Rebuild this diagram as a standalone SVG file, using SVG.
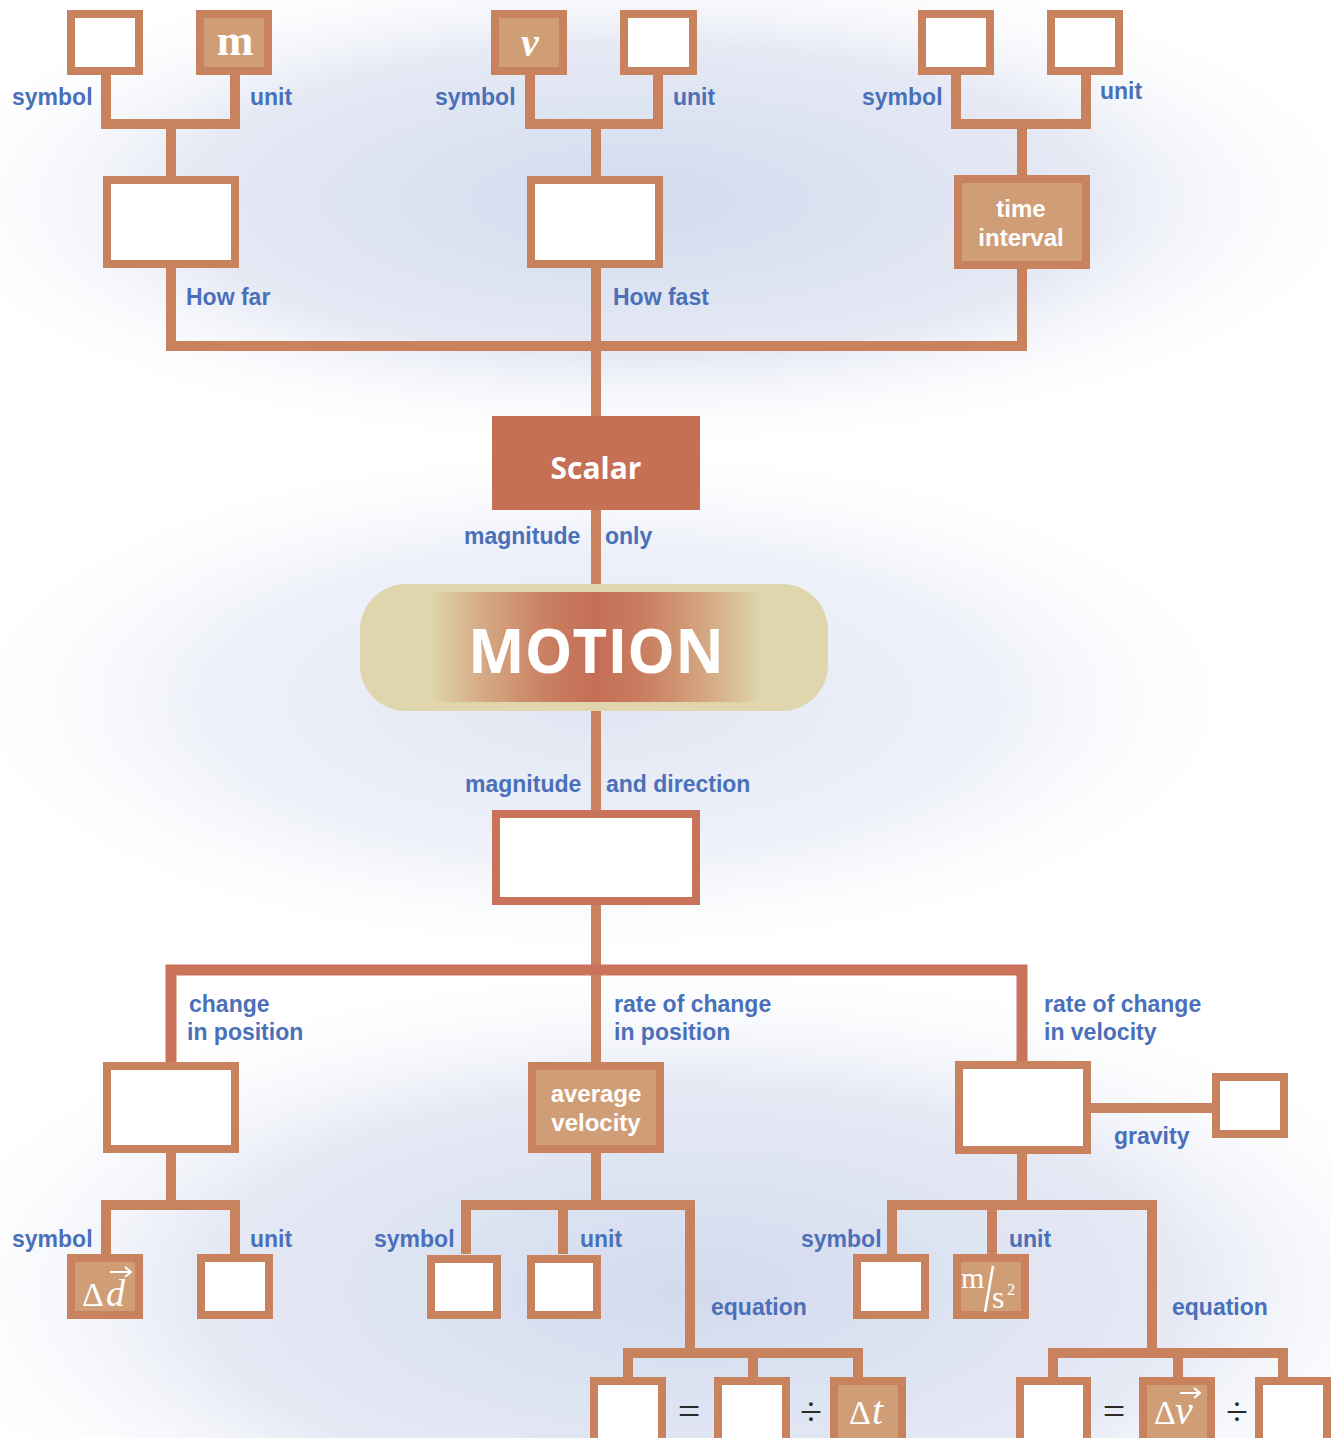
<svg xmlns="http://www.w3.org/2000/svg" width="1331" height="1438" viewBox="0 0 1331 1438">
<defs>
<radialGradient id="bg1" cx="0.5" cy="0.5" r="0.5">
<stop offset="0" stop-color="#d3daee" stop-opacity="1"/>
<stop offset="0.6" stop-color="#dfe4f2" stop-opacity="0.8"/>
<stop offset="1" stop-color="#ffffff" stop-opacity="0"/>
</radialGradient>
<radialGradient id="bg2" cx="0.5" cy="0.5" r="0.5">
<stop offset="0" stop-color="#e0e5f2" stop-opacity="1"/>
<stop offset="0.6" stop-color="#e8ecf6" stop-opacity="0.7"/>
<stop offset="1" stop-color="#ffffff" stop-opacity="0"/>
</radialGradient>
<linearGradient id="motionGlow" x1="0" y1="0" x2="1" y2="0">
<stop offset="0" stop-color="#dfd6ad"/>
<stop offset="0.15" stop-color="#d6ac86"/>
<stop offset="0.35" stop-color="#ca7f61"/>
<stop offset="0.5" stop-color="#c46e55"/>
<stop offset="0.65" stop-color="#ca7f61"/>
<stop offset="0.85" stop-color="#d6ac86"/>
<stop offset="1" stop-color="#dfd6ad"/>
</linearGradient>
<style>
.ln{fill:none;stroke:#c8835e;stroke-width:10;stroke-linejoin:miter;stroke-linecap:butt}
.lnr{fill:none;stroke:#c9735a;stroke-width:11;stroke-linejoin:miter;stroke-linecap:butt}
.box{fill:#ffffff;stroke:#c8835e;stroke-width:8}
.fbox{fill:#d09e76;stroke:#c8835e;stroke-width:8}
.lbl{font-family:"Liberation Sans",Arial,sans-serif;font-weight:700;font-size:23px;fill:#4a70b9}
.wt{font-family:"Liberation Sans",Arial,sans-serif;font-weight:700;font-size:24px;fill:#ffffff;text-anchor:middle}
.sym{font-family:"Liberation Serif","DejaVu Serif",serif;fill:#ffffff}
.op{font-family:"Liberation Serif","DejaVu Serif",serif;font-size:40px;fill:#2a2a2a;text-anchor:middle}
</style>
</defs>
<rect x="0" y="0" width="1331" height="1438" fill="#ffffff"/>
<ellipse cx="640" cy="200" rx="760" ry="260" fill="url(#bg1)"/>
<ellipse cx="600" cy="700" rx="680" ry="270" fill="url(#bg2)"/>
<ellipse cx="690" cy="1290" rx="820" ry="340" fill="url(#bg1)"/>

<g id="connectors">
<path class="ln" d="M106,75 V124 H235 V75 M171,124 V176"/>
<path class="ln" d="M530,75 V124 H658 V75 M596,124 V176"/>
<path class="ln" d="M956,75 V124 H1086 V75 M1022,124 V175"/>
<path class="ln" d="M171,268 V346 H1022 V268 M596,268 V416"/>
<path class="ln" d="M596,510 V584"/>
<path class="ln" d="M596,711 V810"/>
<path class="ln" d="M596,905 V970"/>
<path class="lnr" d="M171,1062 V970 H1022 V1062"/>
<path class="ln" d="M596,975 V1062"/>
<path class="ln" d="M171,1153 V1205 M106,1254 V1205 H235 V1254"/>
<path class="ln" d="M596,1153 V1205 M466,1254 V1205 H690 V1353 M563,1205 V1254"/>
<path class="ln" d="M628,1377 V1353 H858 V1377 M753,1353 V1377"/>
<path class="ln" d="M1022,1153 V1205 M892,1254 V1205 H1152 V1353 M992,1205 V1254"/>
<path class="ln" d="M1053,1377 V1353 H1283 V1377 M1178,1353 V1377"/>
<path class="ln" d="M1091,1108 H1212"/>
</g>

<g id="labels">
<text class="lbl" x="12" y="105">symbol</text>
<text class="lbl" x="250" y="105">unit</text>
<text class="lbl" x="435" y="105">symbol</text>
<text class="lbl" x="673" y="105">unit</text>
<text class="lbl" x="862" y="105">symbol</text>
<text class="lbl" x="1100" y="99">unit</text>
<text class="lbl" x="186" y="305">How far</text>
<text class="lbl" x="613" y="305">How fast</text>
<text class="lbl" x="464" y="544">magnitude</text>
<text class="lbl" x="605" y="544">only</text>
<text class="lbl" x="465" y="792">magnitude</text>
<text class="lbl" x="606" y="792">and direction</text>
<text class="lbl" x="189" y="1012">change</text>
<text class="lbl" x="187" y="1040">in position</text>
<text class="lbl" x="614" y="1012">rate of change</text>
<text class="lbl" x="614" y="1040">in position</text>
<text class="lbl" x="1044" y="1012">rate of change</text>
<text class="lbl" x="1044" y="1040">in velocity</text>
<text class="lbl" x="1114" y="1144">gravity</text>
<text class="lbl" x="12" y="1247">symbol</text>
<text class="lbl" x="250" y="1247">unit</text>
<text class="lbl" x="374" y="1247">symbol</text>
<text class="lbl" x="580" y="1247">unit</text>
<text class="lbl" x="711" y="1315">equation</text>
<text class="lbl" x="801" y="1247">symbol</text>
<text class="lbl" x="1009" y="1247">unit</text>
<text class="lbl" x="1172" y="1315">equation</text>
</g>

<g id="distance-symbol"><rect class="box" x="71" y="14" width="68" height="57"/></g>
<g id="distance-unit"><rect class="fbox" x="200" y="14" width="68" height="57"/><text class="sym" x="235" y="55" font-size="44" font-weight="700" text-anchor="middle">m</text></g>
<g id="distance"><rect class="box" x="107" y="180" width="128" height="84"/></g>

<g id="speed-symbol"><rect class="fbox" x="495" y="14" width="68" height="57"/><text class="sym" x="530" y="56" font-size="40" font-weight="700" font-style="italic" text-anchor="middle">v</text></g>
<g id="speed-unit"><rect class="box" x="624" y="14" width="69" height="57"/></g>
<g id="speed"><rect class="box" x="531" y="180" width="128" height="84"/></g>

<g id="time-symbol"><rect class="box" x="922" y="14" width="68" height="57"/></g>
<g id="time-unit"><rect class="box" x="1051" y="14" width="68" height="57"/></g>
<g id="time-interval"><rect class="fbox" x="958" y="179" width="128" height="86"/><text class="wt" x="1021" y="217">time</text><text class="wt" x="1021" y="246">interval</text></g>

<g id="scalar"><rect x="492" y="416" width="208" height="94" fill="#c57055"/><text x="596" y="479" font-family="'Open Sans','Liberation Sans',sans-serif" font-weight="700" font-size="30" fill="#ffffff" text-anchor="middle">Scalar</text></g>

<g id="motion">
<rect x="360" y="584" width="468" height="127" rx="46" ry="46" fill="#dfd6ad"/>
<rect x="430" y="592" width="332" height="110" fill="url(#motionGlow)"/>
<text x="596" y="673" font-family="'Open Sans','Liberation Sans',sans-serif" font-weight="700" font-size="60" fill="#ffffff" text-anchor="middle" textLength="256" lengthAdjust="spacing">MOTION</text>
</g>

<g id="vector"><rect x="496" y="814" width="200" height="87" fill="#ffffff" stroke="#c9735a" stroke-width="8"/></g>

<g id="displacement"><rect class="box" x="107" y="1066" width="128" height="83"/></g>
<g id="displacement-symbol"><rect class="fbox" x="71" y="1258" width="68" height="57"/>
<text class="sym" x="82" y="1306" font-size="34">Δ</text><text class="sym" x="106" y="1306" font-size="38" font-style="italic">d</text>
<path d="M110,1272 H130 M125,1267 L131,1272 L125,1277" fill="none" stroke="#ffffff" stroke-width="2"/></g>
<g id="displacement-unit"><rect class="box" x="201" y="1258" width="68" height="57"/></g>

<g id="average-velocity"><rect class="fbox" x="532" y="1066" width="128" height="83"/><text class="wt" x="596" y="1102">average</text><text class="wt" x="596" y="1131">velocity</text></g>
<g id="velocity-symbol"><rect class="box" x="431" y="1259" width="66" height="56"/></g>
<g id="velocity-unit"><rect class="box" x="531" y="1259" width="66" height="56"/></g>
<g id="eq1-left"><rect class="box" x="594" y="1381" width="68" height="64"/></g>
<text class="op" x="689" y="1425">=</text>
<g id="eq1-mid"><rect class="box" x="718" y="1381" width="68" height="64"/></g>
<text class="op" x="811" y="1425">÷</text>
<g id="eq1-right"><rect class="fbox" x="834" y="1381" width="68" height="64"/>
<text class="sym" x="849" y="1424" font-size="34">Δ</text><text class="sym" x="872" y="1424" font-size="40" font-style="italic">t</text></g>

<g id="acceleration"><rect class="box" x="959" y="1065" width="128" height="85"/></g>
<g id="gravity"><rect class="box" x="1216" y="1077" width="68" height="57"/></g>
<g id="accel-symbol"><rect class="box" x="857" y="1258" width="68" height="57"/></g>
<g id="accel-unit"><rect class="fbox" x="957" y="1258" width="68" height="57"/>
<text class="sym" x="961" y="1288" font-size="30">m</text>
<path d="M993,1266 L985,1312" stroke="#ffffff" stroke-width="2.5"/>
<text class="sym" x="992" y="1308" font-size="32">s</text>
<text class="sym" x="1007" y="1295" font-size="16">2</text></g>
<g id="eq2-left"><rect class="box" x="1020" y="1381" width="67" height="64"/></g>
<text class="op" x="1114" y="1425">=</text>
<g id="eq2-mid"><rect class="fbox" x="1143" y="1381" width="68" height="64"/>
<text class="sym" x="1154" y="1424" font-size="34">Δ</text><text class="sym" x="1175" y="1424" font-size="40" font-style="italic">v</text>
<path d="M1180,1393 H1199 M1194,1388 L1200,1393 L1194,1398" fill="none" stroke="#ffffff" stroke-width="2"/></g>
<text class="op" x="1237" y="1425">÷</text>
<g id="eq2-right"><rect class="box" x="1259" y="1381" width="68" height="64"/></g>
</svg>
